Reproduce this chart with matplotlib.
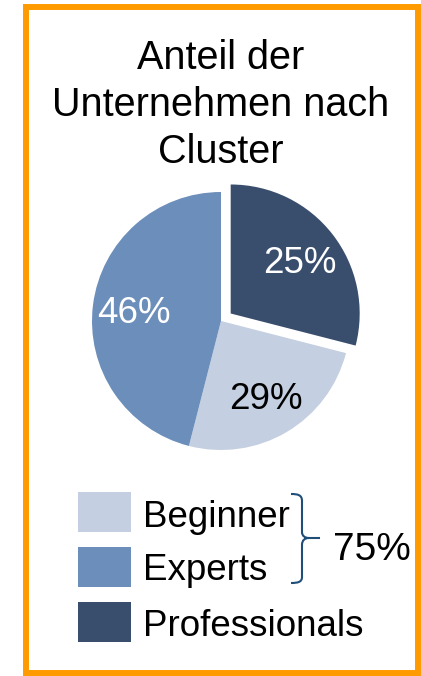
import numpy as np
import matplotlib
matplotlib.use("Agg")
import matplotlib.pyplot as plt
from matplotlib.patches import Rectangle, PathPatch
from matplotlib.path import Path

plt.rcParams['font.family'] = ['Liberation Sans', 'DejaVu Sans']

# ---- data ----
categories = ["Professionals", "Beginner", "Experts"]
wedge_shares = [29, 25, 46]          # wedge sizes as drawn in the reference
label_texts = ["25%", "29%", "46%"]  # labels as printed in the reference
label_colors = ["white", "black", "white"]
colors = ["#394d6c", "#c4cfe1", "#6c8ebb"]
explode = [0.095, 0, 0]
legend_order = ["Beginner", "Experts", "Professionals"]
group_total = "75%"
title_lines = ["Anteil der", "Unternehmen nach", "Cluster"]

W, H = 421, 676
fig = plt.figure(figsize=(W / 100, H / 100), dpi=100)

# overlay axes in pixel coords
ov = fig.add_axes([0, 0, 1, 1])
ov.set_xlim(0, W)
ov.set_ylim(H, 0)
ov.axis("off")

# orange frame
ov.add_patch(Rectangle((25.5, 7), 392.5, 666, fill=False, edgecolor="#ff9a00", linewidth=4.3))

# title
for i, line in enumerate(title_lines):
    ov.text(221, 69 + 47 * i, line, ha="center", va="baseline", fontsize=28.5)

# pie axes
cx, cy, r = 221, 321, 129
half = 140
ax = fig.add_axes([(cx - half) / W, (H - cy - half) / H, 2 * half / W, 2 * half / H])
wedges, _ = ax.pie(wedge_shares, colors=colors, explode=explode, startangle=90,
                   counterclock=False, radius=1.0,
                   wedgeprops=dict(linewidth=0))
ax.set_xlim(-half / r, half / r)
ax.set_ylim(-half / r, half / r)
ax.set_aspect("equal")
ax.axis("off")
for w, t, c in zip(wedges, label_texts, label_colors):
    th = np.deg2rad((w.theta1 + w.theta2) / 2)
    x0, y0 = w.center
    ax.text(x0 + 0.68 * np.cos(th), y0 + 0.68 * np.sin(th) - 0.10, t, ha="center",
            va="baseline", fontsize=26.5, color=c)

# legend
color_map = dict(zip(categories, colors))
row_y = [512, 567, 622]
base_y = [527, 580, 636]
for name, y, b in zip(legend_order, row_y, base_y):
    ov.add_patch(Rectangle((78, y - 20), 53, 40, facecolor=color_map[name], edgecolor="none"))
    ov.text(143, b, name, ha="left", va="baseline", fontsize=26.5, color="black")

# brace
verts = [(291, 494), (298, 494), (302, 495), (302, 501),
         (302, 532),
         (302, 536), (305, 538), (309, 538),
         (320, 538),
         (309, 538),
         (305, 538), (302, 540), (302, 545),
         (302, 577),
         (302, 582), (298, 583), (291, 583)]
codes = [Path.MOVETO, Path.CURVE4, Path.CURVE4, Path.CURVE4,
         Path.LINETO,
         Path.CURVE4, Path.CURVE4, Path.CURVE4,
         Path.LINETO,
         Path.MOVETO,
         Path.CURVE4, Path.CURVE4, Path.CURVE4,
         Path.LINETO,
         Path.CURVE4, Path.CURVE4, Path.CURVE4]
ov.add_patch(PathPatch(Path(verts, codes), fill=False, edgecolor="#1f4e79", linewidth=1.5))
ov.text(372, 560, group_total, ha="center", va="baseline", fontsize=28, color="black")

fig.savefig("out.png", dpi=100)
